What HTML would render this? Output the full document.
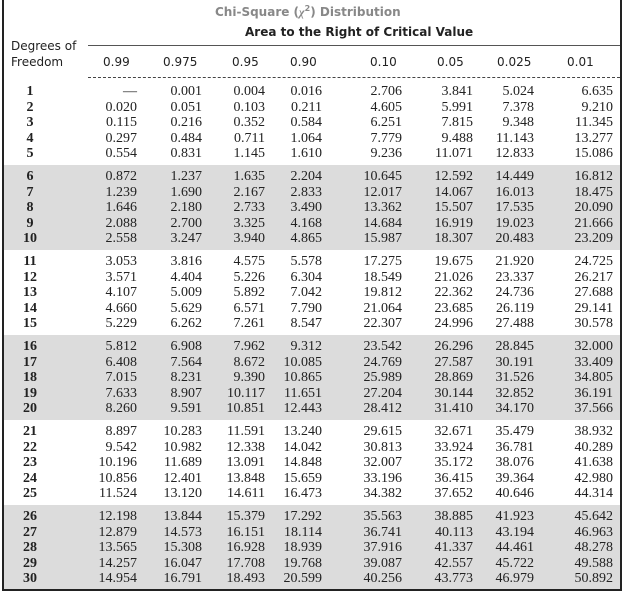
<!DOCTYPE html>
<html><head><meta charset="utf-8"><style>
body{margin:0;width:624px;height:593px;background:#fff;position:relative;overflow:hidden;font-family:"Liberation Serif",serif;}
.frame{position:absolute;left:2px;top:0;width:616px;height:589px;border-left:2px solid #222;border-right:2px solid #222;border-bottom:2px solid #222;}
.band{position:absolute;left:4px;width:616px;height:85px;background:#dcdcdc;}
.t{position:absolute;font-size:14px;color:#222;line-height:16px;white-space:nowrap;}
.r{text-align:right;width:60px;}
.df{font-weight:bold;text-align:center;width:30px;left:15px;}
.h{position:absolute;font-family:"DejaVu Sans","Liberation Sans",sans-serif;font-size:12px;color:#222;white-space:nowrap;}
</style></head><body>
<div class="band" style="top:165px"></div>
<div class="band" style="top:335px"></div>
<div class="band" style="top:505px"></div>
<div class="frame"></div>
<div class="h" style="left:215px;top:4px;color:#888;font-weight:bold">Chi-Square (<span style="font-family:'Liberation Serif',serif;font-style:italic">χ</span><sup style="font-size:8px">2</sup>) Distribution</div>
<div class="h" style="left:245px;top:25px;font-weight:bold">Area to the Right of Critical Value</div>
<div class="h" style="left:11px;top:39px">Degrees of</div>
<div class="h" style="left:11px;top:55px">Freedom</div>
<div style="position:absolute;left:88px;top:45px;width:532px;border-top:1px solid #555"></div>
<div style="position:absolute;left:88px;top:77px;width:532px;border-top:1px dashed #444"></div>
<div id="hdr"></div>
<div id="body"></div>
<script>
var heads=[["0.99",103],["0.975",163],["0.95",232],["0.90",290],["0.10",370],["0.05",437],["0.025",497],["0.01",567]];
var h='';heads.forEach(function(a){h+='<div class="h" style="left:'+a[1]+'px;top:55px">'+a[0]+'</div>';});
document.getElementById('hdr').innerHTML=h;
var R=[137,202,265,322,402,473,534,613];
var d=`—,0.001,0.004,0.016,2.706,3.841,5.024,6.635
0.020,0.051,0.103,0.211,4.605,5.991,7.378,9.210
0.115,0.216,0.352,0.584,6.251,7.815,9.348,11.345
0.297,0.484,0.711,1.064,7.779,9.488,11.143,13.277
0.554,0.831,1.145,1.610,9.236,11.071,12.833,15.086
0.872,1.237,1.635,2.204,10.645,12.592,14.449,16.812
1.239,1.690,2.167,2.833,12.017,14.067,16.013,18.475
1.646,2.180,2.733,3.490,13.362,15.507,17.535,20.090
2.088,2.700,3.325,4.168,14.684,16.919,19.023,21.666
2.558,3.247,3.940,4.865,15.987,18.307,20.483,23.209
3.053,3.816,4.575,5.578,17.275,19.675,21.920,24.725
3.571,4.404,5.226,6.304,18.549,21.026,23.337,26.217
4.107,5.009,5.892,7.042,19.812,22.362,24.736,27.688
4.660,5.629,6.571,7.790,21.064,23.685,26.119,29.141
5.229,6.262,7.261,8.547,22.307,24.996,27.488,30.578
5.812,6.908,7.962,9.312,23.542,26.296,28.845,32.000
6.408,7.564,8.672,10.085,24.769,27.587,30.191,33.409
7.015,8.231,9.390,10.865,25.989,28.869,31.526,34.805
7.633,8.907,10.117,11.651,27.204,30.144,32.852,36.191
8.260,9.591,10.851,12.443,28.412,31.410,34.170,37.566
8.897,10.283,11.591,13.240,29.615,32.671,35.479,38.932
9.542,10.982,12.338,14.042,30.813,33.924,36.781,40.289
10.196,11.689,13.091,14.848,32.007,35.172,38.076,41.638
10.856,12.401,13.848,15.659,33.196,36.415,39.364,42.980
11.524,13.120,14.611,16.473,34.382,37.652,40.646,44.314
12.198,13.844,15.379,17.292,35.563,38.885,41.923,45.642
12.879,14.573,16.151,18.114,36.741,40.113,43.194,46.963
13.565,15.308,16.928,18.939,37.916,41.337,44.461,48.278
14.257,16.047,17.708,19.768,39.087,42.557,45.722,49.588
14.954,16.791,18.493,20.599,40.256,43.773,46.979,50.892`.split('\n');
var s='';
d.forEach(function(line,i){
 var g=Math.floor(i/5),k=i%5;var y=84+g*85+k*15.5;
 s+='<div class="t df" style="top:'+y+'px">'+(i+1)+'</div>';
 line.split(',').forEach(function(v,j){s+='<div class="t r" style="left:'+(R[j]-60)+'px;top:'+y+'px">'+v+'</div>';});
});
document.getElementById('body').innerHTML=s;
</script>
</body></html>
